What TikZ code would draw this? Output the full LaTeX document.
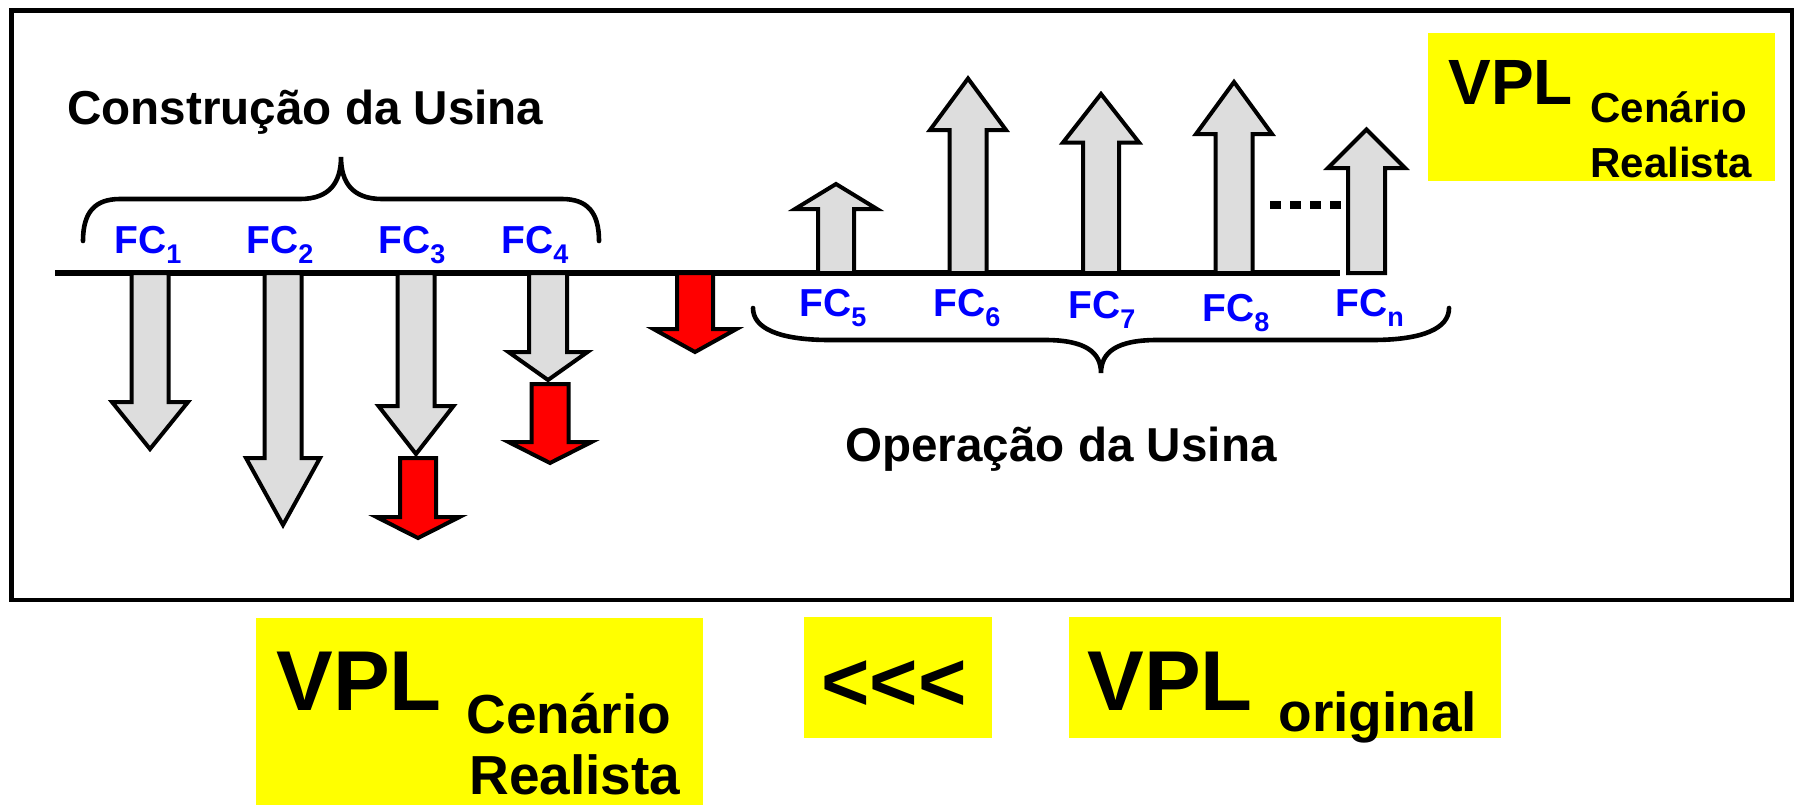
\documentclass[tikz,border=0pt]{standalone}
\usepackage{fontspec}
\setmainfont{Liberation Sans}

\definecolor{arrowgray}{RGB}{221,221,221}
\definecolor{fcblue}{RGB}{0,0,255}
\definecolor{vplyellow}{RGB}{255,255,0}

\tikzset{
  lbl/.style={inner sep=0pt, anchor=base west, font=\bfseries\fontsize{23.8}{28}\selectfont},
  fclbl/.style={lbl, text=fcblue, font=\bfseries\fontsize{19.5}{22}\selectfont},
  vplbig/.style={lbl, font=\bfseries\fontsize{42.5}{48}\selectfont},
  vplsmall/.style={lbl, font=\bfseries\fontsize{27.5}{32}\selectfont},
  grayarrow/.style={draw=black, line width=2pt, fill=arrowgray, line join=miter},
  redarrow/.style={grayarrow, fill=red},
  brace/.style={draw=black, line width=2.3pt, line cap=round},
}

% subscript of the cash flow labels
\newcommand{\fcsub}[1]{\raisebox{-5.2pt}{\fontsize{13.5}{14}\selectfont #1}}
% block arrow: style, centre x, foot y, head y, tip y, half shaft, half head
\newcommand{\fcarrow}[7]{%
  \draw[#1] (#2-#6,#3) -- (#2-#6,#4) -- (#2-#7,#4) -- (#2,#5) -- (#2+#7,#4)
    -- (#2+#6,#4) -- (#2+#6,#3) -- cycle;}

\begin{document}
\begin{tikzpicture}[x=0.5pt,y=-0.5pt]
\useasboundingbox (0,0) rectangle (1797,804);

% frame and yellow boxes
\draw[line width=2.4pt] (11.5,10.5) rectangle (1792,600);
\fill[vplyellow] (1428,33) rectangle (1775,181);
\fill[vplyellow] (256,618) rectangle (703,812);
\fill[vplyellow] (804,617) rectangle (992,738);
\fill[vplyellow] (1069,617) rectangle (1501,738);

% time axis
\draw[line width=2.6pt] (55,273) coordinate (ax-l) -- (1340,273) coordinate (ax-r);

% construction
\fcarrow{grayarrow}{150}{273}{402}{449}{18.5}{38}
\fcarrow{grayarrow}{283}{273}{458}{525}{18.5}{37}
\fcarrow{grayarrow}{416}{273}{406}{454}{18.5}{37.5}
\fcarrow{grayarrow}{548}{273}{352}{380}{19}{39.5}
\fcarrow{redarrow}{418}{458}{517}{538}{18}{41.5}
\fcarrow{redarrow}{550}{384}{442}{463}{18.5}{41.5}
\fcarrow{redarrow}{695}{273}{329}{352}{18}{41.5}

% operation
\fcarrow{grayarrow}{836}{273}{209}{184}{18}{41}
\fcarrow{grayarrow}{968}{273}{130}{78.5}{18.5}{38}
\fcarrow{grayarrow}{1101}{273}{142.5}{94}{18}{38}
\fcarrow{grayarrow}{1234}{273}{134}{82}{18.5}{38}
\fcarrow{grayarrow}{1366.5}{273}{168}{129.5}{18.5}{38.5}
\draw[line width=4.2pt, dash pattern=on 5.5pt off 4.5pt] (1270,205) coordinate (dots-l) -- (1341,205) coordinate (dots-r);

% braces
\draw[brace] (83,241) .. controls (83,212) and (95,199) .. (120,199) -- (300,199)
  .. controls (330,199) and (341,182) .. (341,157) coordinate (constr-tip)
  .. controls (341,182) and (352,199) .. (382,199) -- (562,199)
  .. controls (587,199) and (599,212) .. (599,241);
\draw[brace] (753,308) .. controls (753,328) and (778,340) .. (830,340) -- (1045,340)
  .. controls (1085,340) and (1101,352) .. (1101,373) coordinate (oper-tip)
  .. controls (1101,352) and (1117,340) .. (1157,340) -- (1372,340)
  .. controls (1424,340) and (1449,328) .. (1449,308);

% labels
\node[lbl] (constr) at (67,124.5) {Construção da Usina};
\node[lbl] (oper) at (845,461) {Operação da Usina};
\node[fclbl] (fc1) at (114,253.5) {FC\fcsub{1}};
\node[fclbl] (fc2) at (246,253.5) {FC\fcsub{2}};
\node[fclbl] (fc3) at (378,253.5) {FC\fcsub{3}};
\node[fclbl] (fc4) at (501,253.5) {FC\fcsub{4}};
\node[fclbl] (fc5) at (799,316) {FC\fcsub{5}};
\node[fclbl] (fc6) at (933,316) {FC\fcsub{6}};
\node[fclbl] (fc7) at (1068,318) {FC\fcsub{7}};
\node[fclbl] (fc8) at (1202,321) {FC\fcsub{8}};
\node[fclbl] (fcn) at (1335,316) {FC\fcsub{n}};

% results
\node[lbl, font=\bfseries\fontsize{32}{36}\selectfont] (vpl-r) at (1448,104) {VPL};
\node[lbl, font=\bfseries\fontsize{21}{24}\selectfont] (cen-r) at (1590,122) {Cenário};
\node[lbl, font=\bfseries\fontsize{21}{24}\selectfont] (real-r) at (1590,177) {Realista};
\node[vplbig] (vpl-a) at (276,710) {VPL};
\node[vplsmall] (cen-a) at (466,733) {Cenário};
\node[vplsmall] (real-a) at (469,794) {Realista};
\node[vplbig, font=\bfseries\fontsize{41.5}{48}\selectfont] (less) at (821,710) {<\kern0pt<\kern0pt<};
\node[vplbig] (vpl-b) at (1087,710) {VPL};
\node[vplsmall] (orig-b) at (1278,731) {original};

\end{tikzpicture}
\end{document}
